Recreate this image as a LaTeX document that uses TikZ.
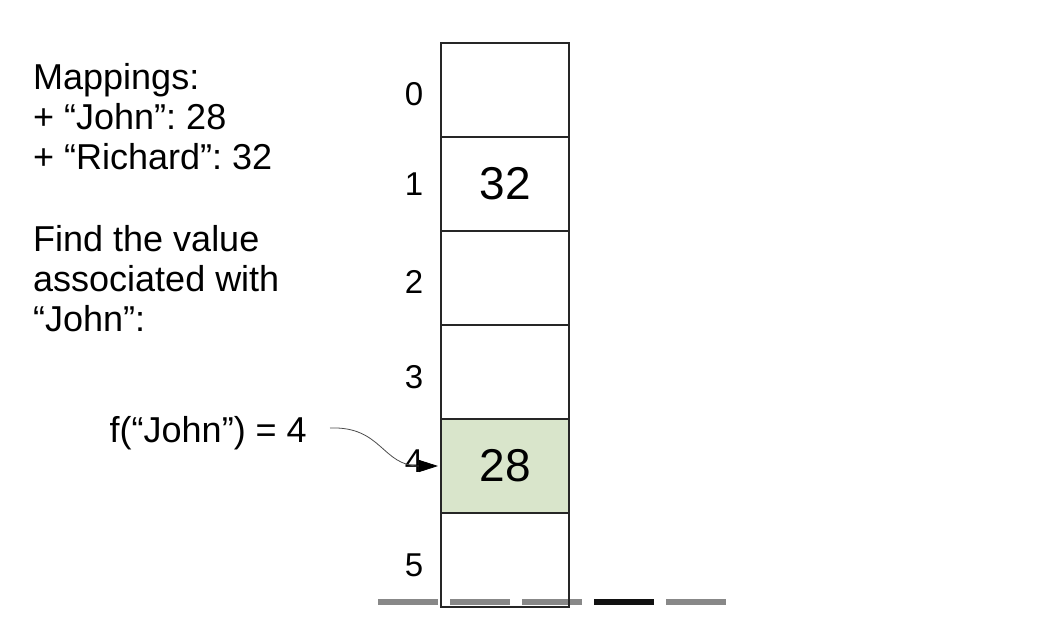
\documentclass[tikz,border=0pt]{standalone}
\usepackage{fontspec}
\setmainfont{Liberation Sans}
\usetikzlibrary{arrows.meta}
\definecolor{cellfill}{HTML}{D9E5CB}
\definecolor{dashgray}{HTML}{888888}
\definecolor{dashblack}{HTML}{111111}
\frenchspacing
\begin{document}
\begin{tikzpicture}[x=1pt,y=-1pt,
  cell/.style={draw=black!85,line width=1.1pt,minimum width=128pt,minimum height=94pt,inner sep=0pt,outer sep=0pt},
  idx/.style={inner sep=0pt,font=\fontsize{33}{38}\selectfont},
  val/.style={inner sep=0pt,font=\fontsize{46}{52}\selectfont},
  txt/.style={inner sep=0pt,align=left,anchor=base west,font=\fontsize{36}{40}\selectfont},
  dashseg/.style={line width=6pt,dashgray},
  pointer/.style={line width=0.8pt,black!70,-{Triangle[length=19pt,width=12pt,fill=black,color=black]}},
]
\useasboundingbox (0,0) rectangle (1054,638);
% dashes
\draw[dashseg] (378,602) -- (438,602);
\draw[dashseg] (450,602) -- (510,602);
\draw[dashseg] (522,602) -- (582,602);
\draw[dashseg,dashblack] (594,602) -- (654,602);
\draw[dashseg] (666,602) -- (726,602);
% cells
\node[cell] (c0) at (505,90) {};
\node[cell] (c1) at (505,184) {};
\node[cell] (c2) at (505,278) {};
\node[cell] (c3) at (505,372) {};
\node[cell,fill=cellfill] (c4) at (505,466) {};
\node[cell] (c5) at (505,560) {};
\node[val] (v1) at (c1) {32};
\node[val] (v4) at (c4) {28};
% indices
\node[idx] (i0) at (414,94) {0};
\node[idx] (i1) at (414,184) {1};
\node[idx] (i2) at (414,282) {2};
\node[idx] (i3) at (414,377) {3};
\node[idx] (i4) at (414,461) {4};
\node[idx] (i5) at (414,565) {5};
% text
\node[txt] (map) at (33,169) {Mappings:\\+ “John”: 28\\+ “Richard”: 32};
\node[txt] (find) at (33,331) {Find the value\\associated with\\“John”:};
\node[inner sep=0pt,anchor=base east,font=\fontsize{36}{40}\selectfont] (f) at (307,442) {f(“John”) = 4};
\coordinate (fs) at ([xshift=23pt,yshift=14pt]f.base east);
\draw[pointer]
  (fs) .. controls (382,426) and (382,466) .. ([xshift=-3pt]c4.west);
\end{tikzpicture}
\end{document}
